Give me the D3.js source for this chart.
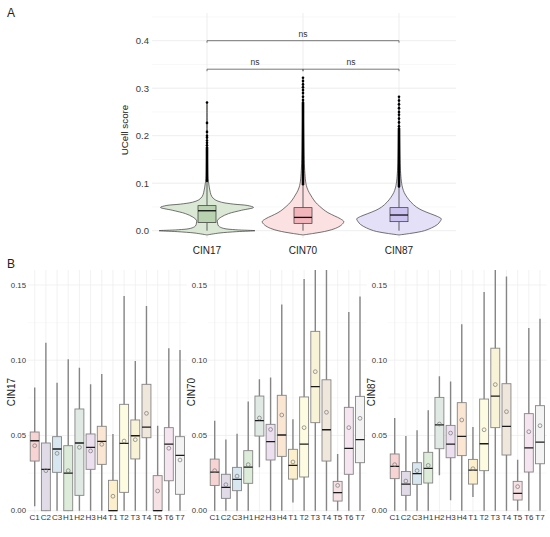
<!DOCTYPE html>
<html>
<head>
<meta charset="utf-8">
<script src="https://cdn.jsdelivr.net/npm/d3@7"></script>
<style>
  body { margin: 0; background: #fff; }
  text { font-family: "Liberation Sans", Arial, sans-serif; }
</style>
</head>
<body>
<div id="chart"></div>
<script>
// ---------- panel A data ----------
const groupsA = ["CIN17", "CIN70", "CIN87"];
const violinFill = ["#dbe8d6", "#fbe1e2", "#e4e0f8"];
const boxFillA = ["#b9d3b0", "#f3b5bc", "#cdc3f0"];

// violin outline: [score, relative half width]
const violinCIN17 = [[-0.009,0],[-0.005,0.25],[-0.002,0.62],[0,1.0],[0.002,0.6],[0.005,0.34],[0.01,0.24],[0.016,0.22],
  [0.022,0.22],[0.029,0.3],[0.036,0.45],[0.043,0.72],[0.049,0.97],[0.053,0.85],[0.056,0.55],[0.06,0.3],[0.065,0.17],
  [0.072,0.1],[0.08,0.07],[0.09,0.05],[0.1,0.035],[0.11,0.02],[0.14,0.012],[0.2,0.006],[0.27,0.004]];
const violinCIN70 = [[-0.009,0],[-0.006,0.2],[-0.003,0.38],[0,0.52],[0.005,0.68],[0.012,0.8],[0.019,0.85],[0.025,0.78],
  [0.031,0.66],[0.038,0.52],[0.045,0.42],[0.052,0.34],[0.06,0.26],[0.07,0.19],[0.08,0.13],[0.09,0.085],[0.1,0.06],
  [0.12,0.04],[0.15,0.025],[0.2,0.015],[0.26,0.008],[0.32,0.004]];
const violinCIN87 = [[-0.009,0],[-0.006,0.22],[-0.003,0.4],[0,0.53],[0.006,0.68],[0.013,0.8],[0.02,0.86],[0.025,0.88],
  [0.03,0.8],[0.036,0.65],[0.043,0.48],[0.05,0.36],[0.06,0.25],[0.07,0.17],[0.08,0.11],[0.09,0.075],[0.1,0.055],
  [0.12,0.035],[0.15,0.022],[0.2,0.012],[0.28,0.004]];
const violins = [violinCIN17, violinCIN70, violinCIN87];

const boxLowA  = [0, 0, 0];
const boxQ1A   = [0.017, 0.0155, 0.019];
const boxMedA  = [0.042, 0.028, 0.033];
const boxQ3A   = [0.0527, 0.0485, 0.0485];
const boxHighA = [0.105, 0.098, 0.093];

// outliers: dense run [from, to] plus single points above it
const denseTail = [[0.105, 0.175], [0.098, 0.27], [0.093, 0.215]];
const outlierCIN17 = [0.18, 0.185, 0.19, 0.196, 0.2, 0.208, 0.227, 0.27];
const outlierCIN70 = [0.275, 0.282, 0.29, 0.296, 0.302, 0.308, 0.315, 0.322];
const outlierCIN87 = [0.22, 0.228, 0.236, 0.244, 0.25, 0.258, 0.266, 0.274, 0.282];
const outliers = [outlierCIN17, outlierCIN70, outlierCIN87];

const comparisons = [["CIN17", "CIN87", 0.4], ["CIN17", "CIN70", 0.34], ["CIN70", "CIN87", 0.34]];
const compLabels = ["ns", "ns", "ns"];

// ---------- panel B data ----------
const cells = ["C1","C2","C3","H1","H2","H3","H4","T1","T2","T3","T4","T5","T6","T7"];
const cellColors = ["#f7d3d3","#e0dbe7","#d8e6ef","#dcecd9","#e1e9e4","#ecdfef","#fbe5d3","#fcefcc",
  "#fdfbe0","#f8f3d6","#efe6dc","#f6e1e5","#f5e5f0","#f3f3f3"];
const scoresB = ["CIN17", "CIN70", "CIN87"];
// rows: [lower whisker, q1, median, q3, upper whisker, mean]
const statsCIN17 = [
  [0.003,0.033,0.0465,0.0523,0.0818,0.0432],[0,0,0.0275,0.045,0.1117,0.0266],[0,0.0255,0.041,0.0492,0.085,0.0381],
  [0,0,0.025,0.0432,0.1006,0.0266],[0,0.0102,0.045,0.0676,0.095,0.0421],[0,0.0275,0.0421,0.051,0.084,0.0397],
  [0,0.0308,0.0461,0.0561,0.0909,0.0441],[0,0,0,0.0202,0.051,0.0096],[0,0.0122,0.0448,0.0707,0.1427,0.0463],
  [0,0.0344,0.0498,0.0603,0.0995,0.0472],[0,0.0485,0.0556,0.084,0.136,0.0647],[0,0,0,0.0233,0.0565,0.0131],
  [0,0.0199,0.0443,0.0552,0.108,0.0415],[0,0.0109,0.0368,0.0492,0.1068,0.0337]];
const statsCIN70 = [
  [0,0.0168,0.0257,0.0343,0.0598,0.0266],[0,0.0082,0.0155,0.0242,0.0474,0.0173],[0,0.0133,0.0208,0.0288,0.0512,0.023],
  [0,0.0182,0.029,0.0399,0.0725,0.0306],[0.0288,0.0496,0.0598,0.0762,0.0873,0.0616],[0,0.0337,0.0459,0.0574,0.0886,0.054],
  [0,0.0361,0.0503,0.0767,0.137,0.0636],[0.0055,0.021,0.0301,0.0408,0.0607,0.0324],[0,0.0224,0.0443,0.0756,0.154,0.0552],
  [0,0.0585,0.0824,0.1192,0.17,0.0924],[0,0.033,0.0538,0.087,0.17,0.0654],[0,0.0064,0.012,0.0195,0.0377,0.0168],
  [0,0.0242,0.0414,0.0687,0.132,0.0552],[0,0.0319,0.0472,0.076,0.1423,0.0614]];
const statsCIN87 = [
  [0,0.0213,0.0295,0.0377,0.0616,0.0306],[0,0.0102,0.0177,0.0261,0.0496,0.0197],[0,0.0175,0.0246,0.0319,0.0534,0.0266],
  [0,0.0184,0.0281,0.0388,0.0667,0.0301],[0.0235,0.0412,0.057,0.0753,0.0893,0.0576],[0.0069,0.0352,0.0443,0.0567,0.0858,0.0516],
  [0,0.0366,0.0494,0.0718,0.1239,0.0603],[0.0091,0.0177,0.027,0.0341,0.0556,0.0279],[0,0.0266,0.0445,0.0742,0.1454,0.0538],
  [0,0.0552,0.0762,0.108,0.17,0.0838],[0,0.037,0.056,0.0844,0.1556,0.0658],[0,0.0071,0.0115,0.0195,0.0339,0.016],
  [0,0.0257,0.0417,0.0645,0.1214,0.0525],[0,0.0312,0.0456,0.0698,0.1276,0.0565]];
const statsB = [statsCIN17, statsCIN70, statsCIN87];

const ticksA = [0, 0.1, 0.2, 0.3, 0.4];
const minorA = [0.05, 0.15, 0.25, 0.35, 0.45];
const ticksB = [0, 0.05, 0.10, 0.15];
const minorB = [0.025, 0.075, 0.125];

const svg = d3.select("#chart").append("svg")
  .attr("width", 550).attr("height", 537)
  .style("background", "#fff");

// ================= panel A =================
const plotA = { left: 152, right: 456, top: 13, bottom: 238 };
const xA = d3.scalePoint().domain(groupsA).range([207, 399]);
const yA = d3.scaleLinear().domain([0, 0.4]).range([230.7, 40.7]);
const halfA = xA.step() / 2;

const gA = svg.append("g");
gA.selectAll("line.minor").data(minorA).enter().append("line")
  .attr("x1", plotA.left).attr("x2", plotA.right)
  .attr("y1", d => yA(d)).attr("y2", d => yA(d))
  .attr("stroke", "#f3f3f3").attr("stroke-width", 0.6);
gA.selectAll("line.major").data(ticksA).enter().append("line")
  .attr("x1", plotA.left).attr("x2", plotA.right)
  .attr("y1", d => yA(d)).attr("y2", d => yA(d))
  .attr("stroke", "#e8e8e8").attr("stroke-width", 0.8);
gA.selectAll("line.vgrid").data(groupsA).enter().append("line")
  .attr("x1", d => xA(d)).attr("x2", d => xA(d))
  .attr("y1", plotA.top).attr("y2", plotA.bottom)
  .attr("stroke", "#e8e8e8").attr("stroke-width", 0.8);

gA.selectAll("text.ytick").data(ticksA).enter().append("text")
  .attr("x", 149).attr("y", d => yA(d) + 3.3)
  .attr("text-anchor", "end").attr("font-size", 9.5).attr("fill", "#3a3a3a")
  .text(d => d3.format(".1f")(d));
gA.selectAll("text.xtick").data(groupsA).enter().append("text")
  .attr("x", d => xA(d)).attr("y", 254)
  .attr("text-anchor", "middle").attr("font-size", 10).attr("fill", "#222")
  .text(d => d);
gA.append("text")
  .attr("transform", "translate(128,130) rotate(-90)")
  .attr("text-anchor", "middle").attr("font-size", 9.8).attr("fill", "#222")
  .text("UCell score");

const violinArea = cx => d3.area()
  .y(d => yA(d[0]))
  .x0(d => cx - d[1] * halfA)
  .x1(d => cx + d[1] * halfA)
  .curve(d3.curveCatmullRom.alpha(0.5));

groupsA.forEach((g, i) => {
  const cx = xA(g);
  gA.append("path").datum(violins[i])
    .attr("d", violinArea(cx))
    .attr("fill", violinFill[i]).attr("stroke", "#3a3a3a").attr("stroke-width", 0.7);
  const bw = 18;
  gA.append("line").attr("x1", cx).attr("x2", cx)
    .attr("y1", yA(boxQ3A[i])).attr("y2", yA(boxHighA[i]))
    .attr("stroke", "#222").attr("stroke-width", 0.7);
  gA.append("line").attr("x1", cx).attr("x2", cx)
    .attr("y1", yA(boxQ1A[i])).attr("y2", yA(boxLowA[i]))
    .attr("stroke", "#222").attr("stroke-width", 0.7);
  gA.append("rect")
    .attr("x", cx - bw / 2).attr("width", bw)
    .attr("y", yA(boxQ3A[i])).attr("height", yA(boxQ1A[i]) - yA(boxQ3A[i]))
    .attr("fill", boxFillA[i]).attr("stroke", "#333").attr("stroke-width", 0.7);
  gA.append("line").attr("x1", cx - bw / 2).attr("x2", cx + bw / 2)
    .attr("y1", yA(boxMedA[i])).attr("y2", yA(boxMedA[i]))
    .attr("stroke", "#111").attr("stroke-width", 1.3);
  // outliers
  gA.append("line").attr("x1", cx).attr("x2", cx)
    .attr("y1", yA(denseTail[i][0])).attr("y2", yA(denseTail[i][1]))
    .attr("stroke", "#000").attr("stroke-width", 2.6).attr("stroke-linecap", "round");
  gA.selectAll(null).data(outliers[i]).enter().append("circle")
    .attr("cx", cx).attr("cy", d => yA(d)).attr("r", 1.3).attr("fill", "#000");
});

// significance brackets
comparisons.forEach((c, i) => {
  const x1 = xA(c[0]), x2 = xA(c[1]), y = yA(c[2]);
  gA.append("path")
    .attr("d", `M${x1},${y + 2}V${y}H${x2}V${y + 2}`)
    .attr("fill", "none").attr("stroke", "#555").attr("stroke-width", 0.8);
  gA.append("text")
    .attr("x", (x1 + x2) / 2).attr("y", y - 4)
    .attr("text-anchor", "middle").attr("font-size", 8.5).attr("fill", "#333")
    .text(compLabels[i]);
});

svg.append("text").attr("x", 7).attr("y", 17).attr("font-size", 12).attr("fill", "#222").text("A");
svg.append("text").attr("x", 7).attr("y", 268).attr("font-size", 12).attr("fill", "#222").text("B");

// ================= panel B =================
const yB = d3.scaleLinear().domain([0, 0.15]).range([510.7, 285]);
const firstCell = [34.7, 214.7, 394.7];
const lastCell = [180, 360, 540];
const titleX = [11, 191, 371];
const tickRight = [26, 207, 387];
const topB = 270, bottomB = 513;

svg.append("defs").selectAll("clipPath").data(scoresB).enter().append("clipPath")
  .attr("id", (d, i) => "clipB" + i)
  .append("rect")
  .attr("x", (d, i) => firstCell[i] - 8).attr("width", lastCell[0] - firstCell[0] + 16)
  .attr("y", topB).attr("height", bottomB - topB + 2);

scoresB.forEach((score, k) => {
  const x = d3.scalePoint().domain(cells).range([firstCell[k], lastCell[k]]);
  const step = x.step();
  const bw = step * 0.8;
  const left = firstCell[k] - step * 0.6, right = lastCell[k] + step * 0.6;
  const g = svg.append("g");

  g.selectAll("line.minor").data(minorB).enter().append("line")
    .attr("x1", left).attr("x2", right)
    .attr("y1", d => yB(d)).attr("y2", d => yB(d))
    .attr("stroke", "#f5f5f5").attr("stroke-width", 0.6);
  g.selectAll("line.major").data(ticksB).enter().append("line")
    .attr("x1", left).attr("x2", right)
    .attr("y1", d => yB(d)).attr("y2", d => yB(d))
    .attr("stroke", "#ededed").attr("stroke-width", 0.7);
  g.selectAll("line.vgrid").data(cells).enter().append("line")
    .attr("x1", d => x(d)).attr("x2", d => x(d))
    .attr("y1", topB).attr("y2", bottomB)
    .attr("stroke", "#ededed").attr("stroke-width", 0.7);

  g.selectAll("text.ytick").data(ticksB).enter().append("text")
    .attr("x", tickRight[k]).attr("y", d => yB(d) + 2.7)
    .attr("text-anchor", "end").attr("font-size", 7.8).attr("fill", "#3a3a3a")
    .text(d => d3.format(".2f")(d));
  g.selectAll("text.xtick").data(cells).enter().append("text")
    .attr("x", d => x(d)).attr("y", 519.8)
    .attr("text-anchor", "middle").attr("font-size", 8).attr("fill", "#333")
    .text(d => d);
  g.append("text")
    .attr("transform", `translate(${titleX[k] + 3.5},392) rotate(-90)`)
    .attr("text-anchor", "middle").attr("font-size", 10).attr("fill", "#222")
    .text(score);

  const marks = g.append("g").attr("clip-path", `url(#clipB${k})`);
  const rows = marks.selectAll("g.cell").data(statsB[k]).enter().append("g");
  rows.append("line")
    .attr("x1", (d, i) => x(cells[i])).attr("x2", (d, i) => x(cells[i]))
    .attr("y1", d => yB(d[4])).attr("y2", d => yB(d[0]))
    .attr("stroke", "#858585").attr("stroke-width", 1.4);
  rows.append("rect")
    .attr("x", (d, i) => x(cells[i]) - bw / 2).attr("width", bw)
    .attr("y", d => yB(d[3])).attr("height", d => yB(d[1]) - yB(d[3]))
    .attr("fill", (d, i) => cellColors[i]).attr("stroke", "#858585").attr("stroke-width", 0.9);
  rows.append("line")
    .attr("x1", (d, i) => x(cells[i]) - bw / 2).attr("x2", (d, i) => x(cells[i]) + bw / 2)
    .attr("y1", d => yB(d[2])).attr("y2", d => yB(d[2]))
    .attr("stroke", "#1a1a1a").attr("stroke-width", 1.3);
  rows.append("circle")
    .attr("cx", (d, i) => x(cells[i])).attr("cy", d => yB(d[5])).attr("r", 1.9)
    .attr("fill", "none").attr("stroke", "#777").attr("stroke-width", 0.7);
});
</script>
</body>
</html>
